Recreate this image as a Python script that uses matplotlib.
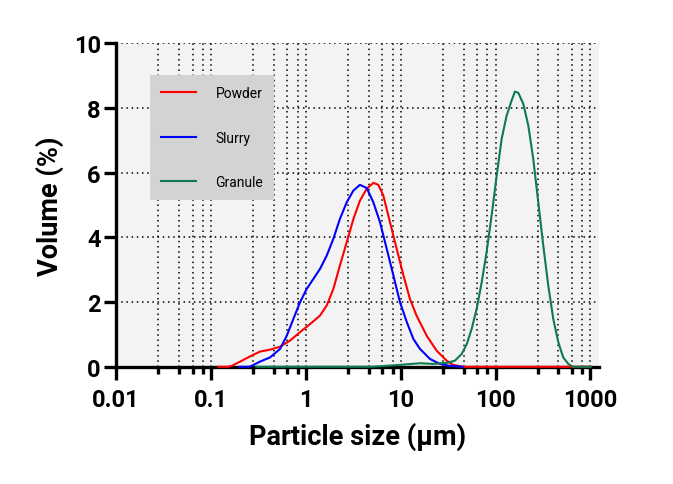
import numpy as np
import matplotlib
matplotlib.use("Agg")
import matplotlib.pyplot as plt
from matplotlib.ticker import FixedLocator, NullFormatter

# ---- data ----
powder_x = [0.12, 0.15, 0.166, 0.203, 0.258, 0.329, 0.420, 0.535, 0.682, 0.869, 1.11, 1.41, 1.66, 1.95,
            2.29, 2.70, 3.18, 3.72, 4.39, 5.15, 5.81, 6.56, 7.71, 9.08, 10.7, 12.5, 14.7, 18.8, 23.9,
            30.5, 35.8, 45.0, 100.0, 1000.0]
powder_y = [0.0, 0.0, 0.03, 0.16, 0.32, 0.47, 0.53, 0.62, 0.81, 1.07, 1.32, 1.58, 1.89, 2.40,
            3.13, 3.85, 4.57, 5.13, 5.50, 5.68, 5.62, 5.29, 4.47, 3.64, 2.82, 2.10, 1.58, 0.96, 0.50,
            0.19, 0.06, 0.0, 0.0, 0.0]

slurry_x = [0.20, 0.25, 0.269, 0.329, 0.420, 0.535, 0.630, 0.740, 0.869, 1.02, 1.20, 1.41, 1.66, 1.95,
            2.29, 2.70, 3.17, 3.72, 4.39, 5.15, 6.05, 7.13, 8.38, 9.84, 11.6, 13.6, 16.0, 20.4, 25.9,
            33.0, 45.0]
slurry_y = [0.0, 0.0, 0.03, 0.16, 0.29, 0.55, 0.96, 1.48, 1.99, 2.40, 2.71, 3.02, 3.43, 3.95,
            4.57, 5.08, 5.44, 5.62, 5.52, 5.08, 4.47, 3.64, 2.82, 1.99, 1.38, 0.86, 0.55, 0.24, 0.09,
            0.03, 0.0]

granule_x = [0.30, 2.0, 5.0, 9.84, 16.0, 22.0, 30.5, 37.3, 44.0, 49.7, 56.0, 63.2, 71.4, 80.4, 90.8,
             102.8, 115.9, 130.9, 147.9, 160.0, 173.8, 195.9, 221.3, 249.5, 281.8, 318.4, 359.1,
             405.5, 458.1, 516.4, 583.4, 650.0, 1000.0]
granule_y = [0.0, 0.0, 0.0, 0.06, 0.11, 0.09, 0.12, 0.19, 0.40, 0.70, 1.17, 1.79, 2.61, 3.54, 4.67,
             5.91, 7.04, 7.76, 8.23, 8.50, 8.46, 8.12, 7.45, 6.42, 5.08, 3.74, 2.51, 1.48, 0.76,
             0.29, 0.09, 0.0, 0.0]

series_names = ["Powder", "Slurry", "Granule"]
series_colors = ["#ff0000", "#0000ff", "#0d7a4f"]

xticks = [0.01, 0.1, 1, 10, 100, 1000]
xticklabels = ["0.01", "0.1", "1", "10", "100", "1000"]
yticks = [0, 2, 4, 6, 8, 10]

# Prism-style minor ticks: 4 linear steps inside each decade
minor = []
for d in [0.01, 0.1, 1, 10, 100]:
    for k in range(1, 5):
        minor.append(d * (1 + 1.8 * k))

plt.rcParams['font.family'] = ['Roboto', 'DejaVu Sans']

fig = plt.figure(figsize=(6.73, 4.85), dpi=100)
ax = fig.add_axes([116 / 673, 1 - 367.8 / 485, (599 - 116) / 673, (367.8 - 44) / 485])
ax.set_facecolor("#f3f3f3")

for xs, ys, name, col in zip([powder_x, slurry_x, granule_x],
                             [powder_y, slurry_y, granule_y],
                             series_names, series_colors):
    ax.plot(xs, ys, color=col, lw=1.5, label=name, zorder=3, clip_on=False)

ax.set_xscale("log")
ax.set_xlim(0.01, 1230)
ax.set_ylim(0, 10)

ax.xaxis.set_major_locator(FixedLocator(xticks))
ax.set_xticklabels(xticklabels)
ax.xaxis.set_minor_locator(FixedLocator(minor))
ax.xaxis.set_minor_formatter(NullFormatter())
ax.set_yticks(yticks)
ax.set_yticklabels([str(v) for v in yticks])

ax.grid(True, which="both", axis="x", color="black", linestyle=(0, (1, 2.4)), lw=1.1)
ax.grid(True, which="major", axis="y", color="black", linestyle=(0, (1, 2.4)), lw=1.1)
ax.set_axisbelow(True)

for s in ["top", "right"]:
    ax.spines[s].set_visible(False)
for s in ["left", "bottom"]:
    ax.spines[s].set_linewidth(2.4)
    ax.spines[s].set_color("black")

ax.tick_params(axis="both", which="major", direction="out", length=9, width=2.4, labelsize=17)
ax.tick_params(axis="x", which="major", pad=6)
ax.tick_params(axis="y", which="major", pad=2)
ax.tick_params(axis="x", which="minor", direction="out", length=5, width=2.4)
for lab in ax.get_xticklabels() + ax.get_yticklabels():
    lab.set_fontweight("bold")

ax.set_xlabel("Particle size (μm)", fontsize=19.5, fontweight="bold", labelpad=8)
ax.set_ylabel("Volume (%)", fontsize=19.5, fontweight="bold", labelpad=7)

leg = fig.legend(loc="upper left", bbox_to_anchor=(150 / 673, 1 - 76 / 485),
                 bbox_transform=fig.transFigure, frameon=True, fancybox=False,
                 facecolor="#d3d3d3", edgecolor="none", framealpha=1,
                 fontsize=10, handlelength=2.49, handletextpad=1.42, labelspacing=2.2,
                 borderpad=0.8, borderaxespad=0)
leg.set_zorder(5)

fig.savefig("out.png", dpi=100)
